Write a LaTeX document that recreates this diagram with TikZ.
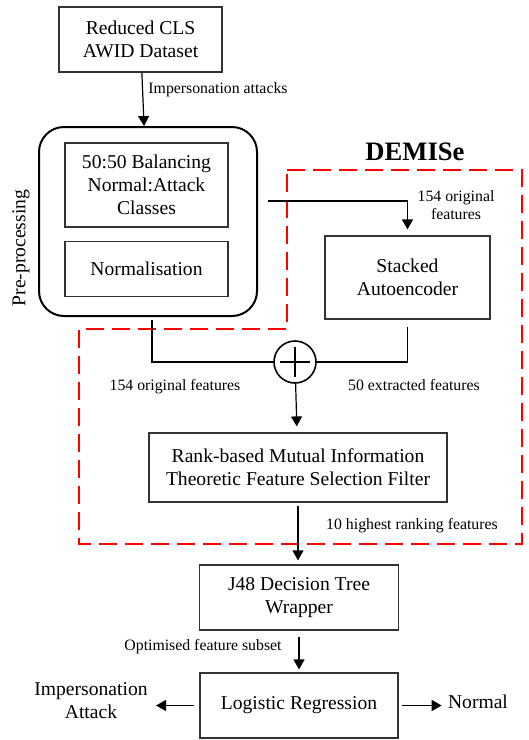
\documentclass[tikz,border=0pt]{standalone}
\usepackage{fontspec}
\setmainfont{Liberation Serif}
\usetikzlibrary{arrows.meta}
\tikzset{
  blk/.style = {draw=black!80, line width=0.6pt, align=center, inner sep=0pt, text centered, font=\fontsize{9.8}{11.5}\selectfont},
  grp/.style = {draw=black, line width=1pt, rounded corners=12.5pt, inner sep=0pt},
  lbl/.style = {align=center, inner sep=0pt, font=\fontsize{7.9}{9}\selectfont},
  txt/.style = {align=center, inner sep=0pt, font=\fontsize{9.8}{11.5}\selectfont},
  flow/.style = {-{Triangle[length=5pt, width=5.5pt]}, line width=0.6pt},
  link/.style = {line width=0.6pt},
  demise/.style = {draw=red, line width=1pt, dash pattern=on 9pt off 4pt},
}

\begin{document}
\begin{tikzpicture}[x=0.5pt, y=-0.5pt]
  \useasboundingbox (0,0) rectangle (529,740);

  % the red DEMISe frame
  \draw[demise] (287,170) -- (522,170) -- (522,544) -- (79,544) -- (79,329) -- (287,329) -- cycle;
  \node[txt, font=\fontsize{13.3}{15}\selectfont\bfseries] (demlbl) at (415,152) {DEMISe};

  % boxes
  \node[blk, minimum width=81.5pt, minimum height=32.5pt] (data) at (140.5,39.5) {Reduced CLS\\AWID Dataset};
  \node[grp, minimum width=109pt, minimum height=94.5pt] (pre) at (148,221.5) {};
  \node[blk, minimum width=81.5pt, minimum height=42pt] (bal) at (146.5,185) {50:50 Balancing\\Normal:Attack\\Classes};
  \node[blk, minimum width=81.5pt, minimum height=27.5pt] (norm) at (146.5,269) {Normalisation};
  \node[txt, rotate=90] (prelbl) at (21,248) {Pre-processing};
  \node[blk, minimum width=82.5pt, minimum height=41.5pt] (sae) at (407.5,277.5) {Stacked\\Autoencoder};
  \node[draw=black, line width=0.8pt, circle, minimum size=21pt, inner sep=0pt,
        path picture={
          \draw[line width=0.9pt] ([xshift=-7.5pt]path picture bounding box.center) -- ([xshift=7.5pt]path picture bounding box.center);
          \draw[line width=0.9pt] ([yshift=-7.5pt]path picture bounding box.center) -- ([yshift=7.5pt]path picture bounding box.center);
        }] (sum) at (295,362) {};
  \node[blk, minimum width=149pt, minimum height=34.5pt] (rank) at (298,467.5) {Rank-based Mutual Information\\Theoretic Feature Selection Filter};
  \node[blk, minimum width=99.5pt, minimum height=32.5pt] (j48) at (299,597.5) {J48 Decision Tree\\Wrapper};
  \node[blk, minimum width=99pt, minimum height=32.5pt] (lr) at (299,705.5) {Logistic Regression};
  \node[txt] (attack) at (91,701) {Impersonation\\Attack};
  \node[txt] (normal) at (478,702) {Normal};

  % labels
  \node[lbl] (l1) at (218,90) {Impersonation attacks};
  \node[lbl] (l2) at (456,205) {154 original\\features};
  \node[lbl] (l3) at (175,387) {154 original features};
  \node[lbl] (l4) at (414,385) {50 extracted features};
  \node[lbl] (l5) at (412,526) {10 highest ranking features};
  \node[lbl] (l6) at (203,647) {Optimised feature subset};

  % connectors
  \coordinate (tap) at (268,201);
  \coordinate (pretap) at (152,320);
  \draw[flow] (data) -- (pre);
  \draw[flow, shorten >=3pt] (tap) -| (sae.north);
  \draw[link] (pretap) |- (sum.west);
  \draw[link, shorten <=3.5pt] (sae.south) |- (sum.east);
  \draw[flow, shorten >=3pt] (sum) -- (rank);
  \draw[flow, shorten <=1.5pt, shorten >=2pt] (rank.south) -- (rank.south |- j48.north);
  \draw[flow, shorten <=3pt, shorten >=1.5pt] (j48.south) -- (j48.south |- lr.north);
  \draw[flow, shorten <=2.5pt, shorten >=4pt] (lr.west) -- (attack.east |- lr.west);
  \draw[flow, shorten <=1.5pt, shorten >=3pt] (lr.east) -- (normal.west |- lr.east);
\end{tikzpicture}
\end{document}
